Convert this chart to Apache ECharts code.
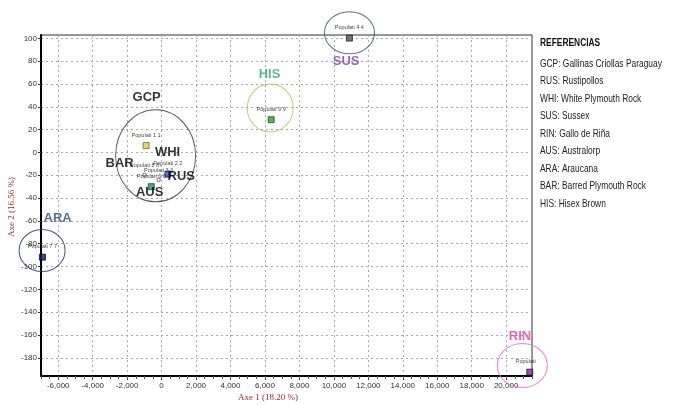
<!DOCTYPE html>
<html><head><meta charset="utf-8">
<script src="https://cdn.jsdelivr.net/npm/echarts@6/dist/echarts.min.js"></script>
<style>html,body{margin:0;padding:0;background:#fff}#c{width:673px;height:405px}</style>
</head><body><div id="c"></div>
<script>
// ---- data ----
const xTicks = [-6000,-4000,-2000,0,2000,4000,6000,8000,10000,12000,14000,16000,18000,20000];
const yTicks = [-180,-160,-140,-120,-100,-80,-60,-40,-20,0,20,40,60,80,100];
const popLabels = ["Populati 1 1","Populati 2 2","Populati 3 3","Populati 4 4","Populati 5 5","Populati 6 6","Populati 7 7","Populati 8 8","Populati 9 9"];
const popX = [-900, 365, -174, 10900, 21370, -600, -6916, -986, 6360];
const popY = [6, -19, -24, 100.3, -192.6, -30, -91.8, -19.5, 28.7];
const groupNames = ["GCP","RUS","WHI","SUS","RIN","AUS","ARA","BAR","HIS"];
const groupX = [-870, 1143, 348, 10713, 20806, -696, -6032, -2436, 6265];
const groupY = [48, -21, 0, 80, -161, -35, -58, -9.3, 68];
const clusterNames = ["GCP","HIS","SUS","ARA","RIN"];
const clusterX = [-348, 6305, 10905, -6937, 20940];
const clusterY = [-2.9, 39, 105, -86, -186.8];
const legendTitle = "REFERENCIAS";
const legendLines = ["GCP: Gallinas Criollas Paraguay","RUS: Rustipollos","WHI: White Plymouth Rock","SUS: Sussex","RIN: Gallo de Riña","AUS: Australorp","ARA: Araucana","BAR: Barred Plymouth Rock","HIS: Hisex Brown"];
const xTitle = "Axe 1 (18.20 %)";
const yTitle = "Axe 2 (16.56 %)";

// ---- styles ----
const popStyle = {
  "Populati 1 1": {color:'#d8cc50', border:'#6a6a20', size:6},
  "Populati 2 2": {color:'#2f4fc8', border:'#1a2a80', size:6},
  "Populati 3 3": {color:'#ffffff', border:'#666', size:3},
  "Populati 4 4": {color:'#555555', border:'#222', size:6},
  "Populati 5 5": {color:'#7a2a8a', border:'#401050', size:6},
  "Populati 6 6": {color:'#2e8b57', border:'#145030', size:6},
  "Populati 7 7": {color:'#141860', border:'#0a0c30', size:6},
  "Populati 8 8": {color:'#ffffff', border:'#666', size:3},
  "Populati 9 9": {color:'#3a9a3a', border:'#1a5a1a', size:6}
};
const groupColor = {GCP:'#000',RUS:'#000',WHI:'#000',SUS:'#7a3fa6',RIN:'#e040b8',AUS:'#000',ARA:'#2c4a6e',BAR:'#000',HIS:'#2ea86a'};
const clusterStyle = {
  GCP:{size:[80,92], color:'#333'},
  HIS:{size:[46,48], color:'#9acd5a'},
  SUS:{size:[50,42], color:'#445066'},
  ARA:{size:[46,42], color:'#1e2e6a'},
  RIN:{size:[50,44], color:'#e868c8'}
};

const chart = echarts.init(document.getElementById('c'), null, {renderer:'canvas'});
const tickFont = {fontFamily:'Liberation Sans, Arial', fontSize:8, color:'#333'};
const narrow = 'Liberation Sans, Arial';

const option = {
  animation:false,
  backgroundColor:'#fff',
  grid:{left:41, right:141, top:35, bottom:29, show:true, borderColor:'#333', borderWidth:1},
  xAxis:[{
    type:'value', min:-7000, max:21500,
    axisLine:{show:true, onZero:false, lineStyle:{color:'#000', width:2}},
    axisTick:{show:true, customValues:xTicks, length:4, lineStyle:{color:'#333'}},
    axisLabel:{customValues:xTicks, margin:6, ...tickFont,
      formatter:v=>v.toLocaleString('en-US')},
    splitLine:{show:true, lineStyle:{color:'#aaa', type:[2,3], width:1}}
  },{
    type:'value', min:-7000, max:21500, interval:500, position:'bottom',
    axisLine:{show:false, onZero:false}, axisLabel:{show:false}, splitLine:{show:false},
    axisTick:{show:true, length:3, lineStyle:{color:'#555'}}
  }],
  yAxis:{
    type:'value', min:-196, max:103,
    axisLine:{show:true, onZero:false, lineStyle:{color:'#000', width:2}},
    axisTick:{show:true, customValues:yTicks, length:3, lineStyle:{color:'#333'}},
    axisLabel:{customValues:yTicks, margin:4, ...tickFont},
    splitLine:{show:true, lineStyle:{color:'#aaa', type:[2,3], width:1}}
  },
  series:[
    {
      type:'scatter', clip:false, silent:true, z:2,
      data: clusterNames.map((n,i)=>({
        value:[clusterX[i], clusterY[i]],
        symbolSize: clusterStyle[n].size,
        itemStyle:{color:'rgba(0,0,0,0)', borderColor:clusterStyle[n].color, borderWidth:1}
      })),
      symbol:'circle'
    },
    {
      type:'scatter', clip:false, symbol:'rect', z:4,
      data: popLabels.map((n,i)=>({
        value:[popX[i], popY[i]], name:n,
        symbolSize: popStyle[n].size,
        itemStyle:{color:popStyle[n].color, borderColor:popStyle[n].border, borderWidth:1},
        label: n==="Populati 5 5" ? {width:22, overflow:'truncate', ellipsis:'', offset:[-4,0]} : {}
      })),
      label:{show:true, position:'top', distance:4, formatter:p=>p.name,
        fontFamily:narrow, fontSize:5.5, color:'#111'}
    },
    {
      type:'scatter', clip:false, symbolSize:0, z:5, silent:true,
      data: groupNames.map((n,i)=>({
        value:[groupX[i], groupY[i]], name:n,
        label:{color:groupColor[n]}
      })),
      label:{show:true, position:'inside', formatter:p=>p.name,
        fontFamily:'Liberation Sans, Arial', fontWeight:'bold', fontSize:13}
    }
  ],
  graphic:[
    {type:'text', x:540, y:38, scaleX:0.8, style:{text:legendTitle, fontFamily:narrow, fontWeight:'bold', fontSize:10.5, fill:'#111'}},
    {type:'text', x:540, y:55, scaleX:0.8, style:{text:legendLines.join('\n'), lineHeight:17.5, fontFamily:narrow, fontSize:10.5, fill:'#222'}},
    {type:'text', x:268, y:398, style:{text:xTitle, fontFamily:'Liberation Serif, Times New Roman, serif', fontSize:9, fill:'#9a2a2a', align:'center', verticalAlign:'middle'}},
    {type:'text', x:12, y:207, rotation:Math.PI/2, style:{text:yTitle, fontFamily:'Liberation Serif, Times New Roman, serif', fontSize:9, fill:'#9a2a2a', align:'center', verticalAlign:'middle'}}
  ]
};
chart.setOption(option);
</script></body></html>
